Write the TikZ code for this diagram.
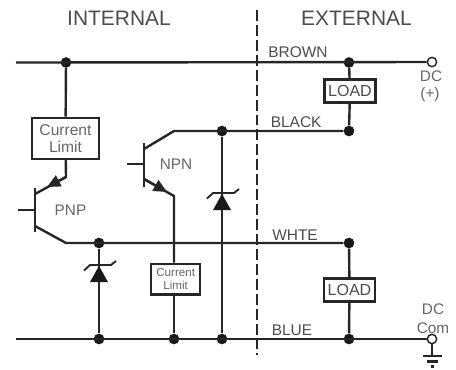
\documentclass[tikz,border=0pt]{standalone}
\usepackage{fontspec}
\setmainfont{Liberation Sans}
\usetikzlibrary{arrows.meta}
\tikzset{
	wire/.style={line width=1.8pt, black!85},
	dot/.style={circle, fill=black!90, inner sep=0pt, minimum size=8pt},
	openend/.style={circle, draw=black!85, fill=white, line width=1.1pt, inner sep=0pt, minimum size=7pt},
	limitbox/.style={draw=black!85, fill=white, line width=1.8pt, inner sep=0pt, align=center, text=black!60},
	loadbox/.style={limitbox, minimum width=38.5pt, minimum height=17pt, font=\fontsize{12}{14}\selectfont, text=black!70},
	title/.style={inner sep=0pt, text=black!70, font=\fontsize{15.7}{18}\selectfont},
	wirelabel/.style={inner sep=0pt, anchor=base west, text=black!70, font=\fontsize{11.6}{13}\selectfont},
	tag/.style={inner sep=0pt, text=black!60, font=\fontsize{11.5}{13}\selectfont},
	emitter/.style={wire, -{Triangle[length=10pt,width=9pt]}}
}
\begin{document}
\begin{tikzpicture}[x=0.75pt, y=-0.75pt]
	\useasboundingbox (0, 0) rectangle (456, 369);

	\node[title] (internal) at (119, 18.5) {INTERNAL};
	\node[title] (external) at (356.5, 18.5) {EXTERNAL};
	\coordinate (sepTop) at (257, 10);
	\coordinate (sepBot) at (257, 355);
	\path (sepTop) edge[line width=1.6pt, black!85, dash pattern=on 8.2pt off 3pt] (sepBot);

	% buses
	\coordinate (brownL) at (16, 62.5);
	\coordinate (blueL) at (16, 339);
	\node[openend] (plus) at (432, 62) {};
	\node[openend] (com) at (432, 339) {};
	\node[dot] (brownPnp) at (66, 62.5) {};
	\node[dot] (brownLoad) at (349, 62.5) {};
	\node[dot] (blackZener) at (222, 131) {};
	\node[dot] (blackLoad) at (349, 131) {};
	\node[dot] (whiteZener) at (99, 243) {};
	\node[dot] (whiteLoad) at (349, 243) {};
	\node[dot] (blueZener) at (99, 339) {};
	\node[dot] (blueLimit) at (174, 339) {};
	\node[dot] (blueNpn) at (222, 339) {};
	\node[dot] (blueLoad) at (349, 339) {};
	\path (brownL) edge[wire] (plus);
	\path (blueL) edge[wire] (com);

	\node[wirelabel] (brown) at (268, 57) {BROWN};
	\node[wirelabel] (black) at (270.5, 127.5) {BLACK};
	\node[wirelabel] (whte) at (272, 240) {WHTE};
	\node[wirelabel] (blue) at (271.5, 335) {BLUE};

	% loads
	\node[loadbox] (load1) at (350, 91) {LOAD};
	\node[loadbox] (load2) at (349.5, 290) {LOAD};
	\path (brownLoad) edge[wire] (load1);
	\path (load1) edge[wire] (blackLoad);
	\path (whiteLoad) edge[wire] (load2);
	\path (load2) edge[wire] (blueLoad);

	% PNP
	\node[limitbox, minimum width=50pt, minimum height=30.7pt, font=\fontsize{11.7}{13}\selectfont] (limit1) at (65.5, 138.3) {Current\\Limit};
	\coordinate (pnpBend) at (66, 177);
	\coordinate (pnpEm) at (35, 194);
	\coordinate (pnpTip) at (47, 187);
	\coordinate (pnpTop) at (35, 188);
	\coordinate (pnpBot) at (35, 232);
	\coordinate (pnpBase) at (18, 210);
	\coordinate (pnpMid) at (35, 210);
	\coordinate (pnpCol) at (35, 226);
	\coordinate (whiteL) at (66, 243);
	\path (brownPnp) edge[wire] (limit1);
	\draw[wire, line join=round] (limit1) -- (pnpBend) -- (pnpEm);
	\path (pnpBend) edge[emitter] (pnpTip);
	\path (pnpTop) edge[wire] (pnpBot);
	\path (pnpBase) edge[wire] (pnpMid);
	\draw[wire, line join=round] (pnpCol) -- (whiteL) -- (whiteLoad);
	\node[tag] (pnp) at (70.5, 210) {PNP};

	% NPN
	\node[limitbox, minimum width=36.8pt, minimum height=23pt, font=\fontsize{8.7}{9.8}\selectfont] (limit2) at (175.7, 279.2) {Current\\Limit};
	\coordinate (npnTop) at (144, 143);
	\coordinate (npnBot) at (144, 187);
	\coordinate (npnBase) at (127, 164);
	\coordinate (npnMid) at (144, 164);
	\coordinate (npnCol) at (144, 149);
	\coordinate (npnBend) at (174, 131);
	\coordinate (npnEm) at (144, 179);
	\coordinate (npnTip) at (167, 192);
	\coordinate (npnDown) at (174, 196);
	\path (npnTop) edge[wire] (npnBot);
	\path (npnBase) edge[wire] (npnMid);
	\draw[wire, line join=round] (npnCol) -- (npnBend) -- (blackLoad);
	\draw[wire, line join=round] (npnEm) -- (npnDown) -- (limit2.north -| npnDown);
	\path (npnEm) edge[emitter] (npnTip);
	\path (limit2.south -| blueLimit) edge[wire] (blueLimit);
	\node[tag] (npn) at (176, 164) {NPN};

	% zeners
	\path (whiteZener) edge[wire] (blueZener);
	\path (blackZener) edge[wire] (blueNpn);
	\coordinate (z1Apex) at (99, 266);
	\coordinate (z1A) at (90, 282);
	\coordinate (z1B) at (108, 282);
	\fill[black!90] (z1Apex) -- (z1A) -- (z1B) -- cycle;
	\draw[line width=1.4pt, black!85, line join=round] (84, 270.5) -- (90, 265) -- (111, 265) -- (116, 261);
	\coordinate (z2Apex) at (222, 194);
	\coordinate (z2A) at (213, 210);
	\coordinate (z2B) at (231, 210);
	\fill[black!90] (z2Apex) -- (z2A) -- (z2B) -- cycle;
	\draw[line width=1.4pt, black!85, line join=round] (207, 198.5) -- (213, 193) -- (234, 193) -- (239, 189);

	% DC terminals
	\node[tag] (dc1) at (431, 76) {DC};
	\node[tag] (dcplus) at (430, 95) {(+)};
	\node[tag] (dc2) at (433, 309) {DC};
	\node[tag] (dccom) at (433, 328) {Com};

	% ground
	\coordinate (gnd) at (432, 356);
	\path (com) edge[wire] (gnd);
	\draw[wire] (423, 356) -- (442, 356);
	\draw[wire] (427, 361.5) -- (438, 361.5);
	\draw[wire] (431, 366.5) -- (434, 366.5);
\end{tikzpicture}
\end{document}
